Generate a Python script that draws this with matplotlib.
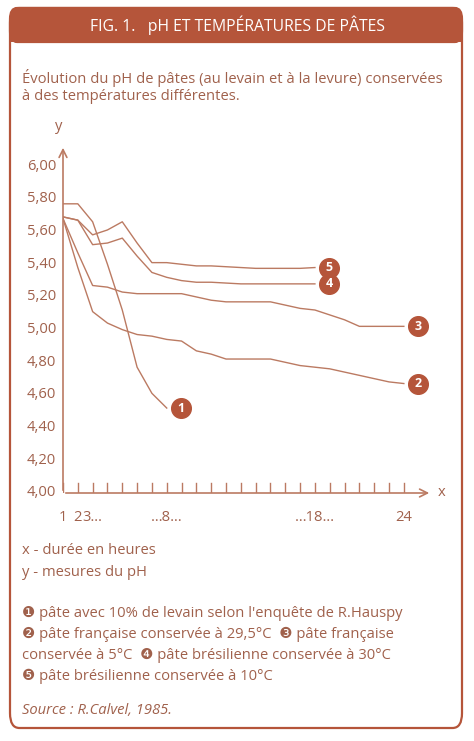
import matplotlib.pyplot as plt
from matplotlib.patches import FancyBboxPatch, Rectangle

plt.rcParams['font.family'] = ['Open Sans', 'DejaVu Sans']

hours = list(range(1, 25))
ph_1 = [5.77, 5.77, 5.66, 5.40, 5.12, 4.77, 4.61, 4.52]
ph_2 = [5.68, 5.38, 5.11, 5.04, 5.00, 4.97, 4.96, 4.94, 4.93, 4.87, 4.85, 4.82,
        4.82, 4.82, 4.82, 4.80, 4.78, 4.77, 4.76, 4.74, 4.72, 4.70, 4.68, 4.67]
ph_3 = [5.68, 5.47, 5.27, 5.26, 5.23, 5.22, 5.22, 5.22, 5.22, 5.20, 5.18, 5.17,
        5.17, 5.17, 5.17, 5.15, 5.13, 5.12, 5.09, 5.06, 5.02, 5.02, 5.02, 5.02]
ph_4 = [5.69, 5.67, 5.52, 5.53, 5.56, 5.45, 5.35, 5.32, 5.30, 5.29, 5.29, 5.285,
        5.28, 5.28, 5.28, 5.28, 5.28, 5.28]
ph_5 = [5.69, 5.67, 5.58, 5.61, 5.66, 5.53, 5.41, 5.41, 5.40, 5.39, 5.39, 5.385,
        5.38, 5.375, 5.375, 5.375, 5.375, 5.38]
series = [ph_1, ph_2, ph_3, ph_4, ph_5]
yticks = [4.0, 4.2, 4.4, 4.6, 4.8, 5.0, 5.2, 5.4, 5.6, 5.8, 6.0]
xlabels = {1: '1', 2: '2', 3: '3…', 8: '…8…', 18: '…18…', 24: '24'}

RED = '#b5553a'
TXT = '#a0614c'
LINE = '#bb7a62'
FS = 10.6

W, H = 474, 741
fig = plt.figure(figsize=(W / 100, H / 100), dpi=100)
fig.patch.set_facecolor('white')

# frame and header
frame = FancyBboxPatch((10 / W, 1 - 728 / H), 452 / W, 720 / H,
                       boxstyle='round,pad=0,rounding_size=0.02',
                       transform=fig.transFigure, fc='white', ec=RED, lw=1.6)
fig.patches.append(frame)
head = FancyBboxPatch((10 / W, 1 - 42 / H), 452 / W, 34 / H,
                      boxstyle='round,pad=0,rounding_size=0.015',
                      transform=fig.transFigure, fc=RED, ec=RED, lw=1.6)
fig.patches.append(head)
fig.patches.append(Rectangle((10 / W, 1 - 42 / H), 452 / W, 12 / H,
                             transform=fig.transFigure, fc=RED, ec='none'))
fig.text(0.5, 1 - 25 / H, 'FIG. 1.   pH ET TEMPÉRATURES DE PÂTES', color='white',
         ha='center', va='center', fontsize=11.3)

fig.text(22 / W, 1 - 78 / H, 'Évolution du pH de pâtes (au levain et à la levure) conservées',
         color=TXT, fontsize=FS, va='center')
fig.text(22 / W, 1 - 96 / H, 'à des températures différentes.', color=TXT, fontsize=FS, va='center')

ax = fig.add_axes([63 / W, 1 - 493 / H, 369 / W, 348 / H])
ax.set_zorder(3)
ax.patch.set_alpha(0)
ax.set_xlim(1, 25.9)
ax.set_ylim(4, 6.13)
for s in ax.spines.values():
    s.set_visible(False)
ax.annotate('', xy=(25.9, 4), xytext=(1, 4),
            arrowprops=dict(arrowstyle='->', color=LINE, lw=1.2, mutation_scale=14))
ax.annotate('', xy=(1, 6.13), xytext=(1, 4),
            arrowprops=dict(arrowstyle='->', color=LINE, lw=1.2, mutation_scale=14))
ax.text(26.3, 4, 'x', color=TXT, fontsize=FS, va='center', clip_on=False)
ax.text(0.7, 6.2, 'y', color=TXT, fontsize=FS, va='bottom', ha='center', clip_on=False)

for x in hours:
    ax.plot([x, x], [4, 4.06], color=LINE, lw=1)
ax.set_xticks([])
ax.set_yticks([])
for x, lab in xlabels.items():
    ax.text(x, 3.85, lab, color=TXT, fontsize=FS, ha='center', va='center', clip_on=False)
for y in yticks:
    ax.text(0.55, y, f'{y:.2f}'.replace('.', ','), color=TXT, fontsize=FS,
            ha='right', va='center', clip_on=False)

for i, vals in enumerate(series):
    xs = hours[:len(vals)]
    ax.plot(xs, vals, color=LINE, lw=1)
    bx, by = xs[-1] + 0.95, vals[-1]
    ax.scatter([bx], [by], s=200, color=RED, zorder=3)
    ax.text(bx, by, str(i + 1), color='white', fontsize=9, fontweight='bold',
            ha='center', va='center', zorder=4)

fig.text(22 / W, 1 - 551 / H, 'x - durée en heures', color=TXT, fontsize=FS, va='center')
fig.text(22 / W, 1 - 573 / H, 'y - mesures du pH', color=TXT, fontsize=FS, va='center')

legend_lines = [
    '❶ pâte avec 10% de levain selon l\'enquête de R.Hauspy',
    '❷ pâte française conservée à 29,5°C  ❸ pâte française',
    'conservée à 5°C  ❹ pâte brésilienne conservée à 30°C',
    '❺ pâte brésilienne conservée à 10°C',
]
for k, line in enumerate(legend_lines):
    fig.text(22 / W, 1 - (613 + 21 * k) / H, line, color=TXT, fontsize=FS, va='center')

fig.text(22 / W, 1 - 711 / H, 'Source : R.Calvel, 1985.', color=TXT, fontsize=FS,
         va='center', style='italic')

fig.savefig('out.png', dpi=100)
